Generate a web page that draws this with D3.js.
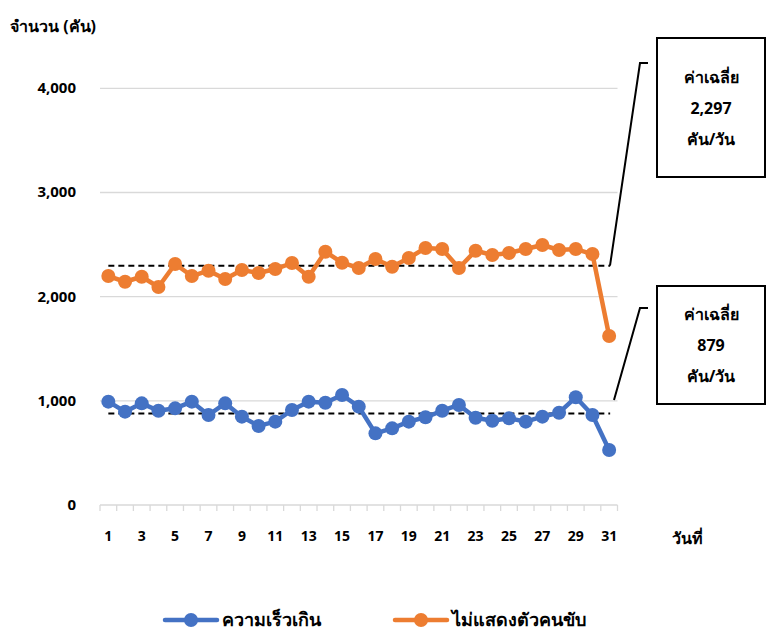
<!DOCTYPE html>
<html><head><meta charset="utf-8">
<script src="https://cdn.jsdelivr.net/npm/d3@7/dist/d3.min.js"></script>
<style>
body{margin:0;background:#fff;}
text{font-family:Tahoma,"Noto Sans","DejaVu Sans",sans-serif;font-weight:bold;fill:#000;}
</style></head>
<body><svg id="c" width="778" height="636"></svg>
<script>
const days = d3.range(1, 32);
const speeding = [992,896,976,905,928,992,864,976,848,759,800,912,992,982,1056,944,688,736,800,842,905,960,838,809,832,800,848,886,1034,864,528];
const noDriver = [2198,2143,2191,2093,2313,2198,2249,2169,2256,2227,2265,2323,2191,2431,2326,2275,2361,2287,2371,2467,2457,2275,2441,2400,2419,2457,2496,2448,2457,2409,1622];
const avgSpeeding = 879;
const avgNoDriver = 2297;
const yTicks = [0,1000,2000,3000,4000];
const seriesNames = ["ความเร็วเกิน","ไม่แสดงตัวคนขับ"];
const colors = ["#4472C4","#ED7D31"];

const svg = d3.select("#c");
const x = d3.scaleBand().domain(days).range([100, 617.5]);
const y = d3.scaleLinear().domain([0,4000]).range([505, 88.3]);
const cx = d => x(d) + x.bandwidth()/2;

// gridlines
svg.append("g").selectAll("line").data(yTicks.slice(1)).join("line")
  .attr("x1",100).attr("x2",617.5).attr("y1",d=>y(d)).attr("y2",d=>y(d))
  .attr("stroke","#d9d9d9").attr("stroke-width",1.3);

// y labels
svg.append("g").selectAll("text").data(yTicks).join("text")
  .attr("x",76).attr("y",d=>y(d)+5).attr("text-anchor","end")
  .attr("font-size",15).text(d=>d3.format(",")(d));

// x axis
svg.append("line").attr("x1",100).attr("x2",617.5).attr("y1",505).attr("y2",505)
  .attr("stroke","#d9d9d9").attr("stroke-width",1.3);
const bounds = days.map(d=>x(d)).concat([x(31)+x.bandwidth()]);
svg.append("g").selectAll("line").data(bounds).join("line")
  .attr("x1",d=>d).attr("x2",d=>d).attr("y1",505).attr("y2",511)
  .attr("stroke","#d9d9d9").attr("stroke-width",1.3);
svg.append("g").selectAll("text").data(days.filter(d=>d%2===1)).join("text")
  .attr("x",d=>cx(d)).attr("y",541).attr("text-anchor","middle")
  .attr("font-size",14).text(d=>d);

svg.append("text").attr("x",10).attr("y",32).attr("font-size",16).text("จำนวน (คัน)");
svg.append("text").attr("x",672).attr("y",544).attr("font-size",16).text("วันที่");

// average dashed lines
[avgNoDriver, avgSpeeding].forEach(a=>{
  svg.append("line").attr("x1",cx(1)).attr("x2",cx(31)+1).attr("y1",y(a)).attr("y2",y(a))
    .attr("stroke","#000").attr("stroke-width",2).attr("stroke-dasharray","6,4");
});

// series
const line = d3.line().x((d,i)=>cx(days[i])).y(d=>y(d));
[speeding, noDriver].forEach((s,k)=>{
  svg.append("path").datum(s).attr("d",line).attr("fill","none")
    .attr("stroke",colors[k]).attr("stroke-width",4.5).attr("stroke-linejoin","round");
  svg.append("g").selectAll("circle").data(s).join("circle")
    .attr("cx",(d,i)=>cx(days[i])).attr("cy",d=>y(d)).attr("r",7).attr("fill",colors[k]);
});

// callouts
const callouts = [
  {val:avgNoDriver, label:d3.format(",")(avgNoDriver), boxY:38, boxH:139, elbowY:63, startX:610},
  {val:avgSpeeding, label:String(avgSpeeding), boxY:286, boxH:118, elbowY:308, startX:614}
];
callouts.forEach(c=>{
  const sy = c.val===avgNoDriver ? y(c.val) : 400;
  svg.append("polyline")
    .attr("points",`${c.startX},${sy} 640,${c.elbowY} 648,${c.elbowY}`)
    .attr("fill","none").attr("stroke","#000").attr("stroke-width",2);
  svg.append("rect").attr("x",657).attr("y",c.boxY).attr("width",108).attr("height",c.boxH)
    .attr("fill","#fff").attr("stroke","#000").attr("stroke-width",2);
  const mid = c.boxY + c.boxH/2;
  const lines = ["ค่าเฉลี่ย", c.label, "คัน/วัน"];
  lines.forEach((t,i)=>{
    svg.append("text").attr("x",711).attr("y",mid + (i-1)*31 + 6)
      .attr("text-anchor","middle").attr("font-size",16).text(t);
  });
});

// legend
const legX = [165, 395];
seriesNames.forEach((n,k)=>{
  const lx = legX[k];
  svg.append("line").attr("x1",lx).attr("x2",lx+52).attr("y1",620).attr("y2",620)
    .attr("stroke",colors[k]).attr("stroke-width",4.5).attr("stroke-linecap","round");
  svg.append("circle").attr("cx",lx+26).attr("cy",620).attr("r",7).attr("fill",colors[k]);
  svg.append("text").attr("x",lx+57).attr("y",626).attr("font-size",18).text(n);
});
</script></body></html>
